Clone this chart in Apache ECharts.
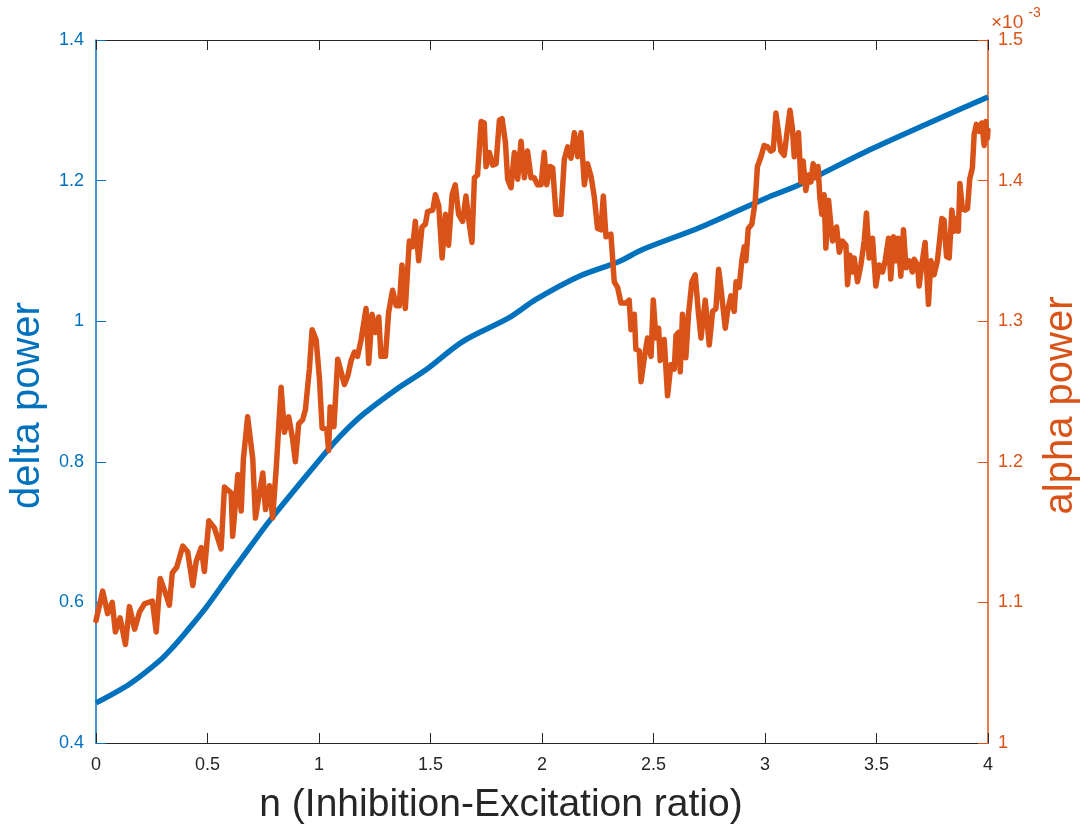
<!DOCTYPE html>
<html>
<head>
<meta charset="utf-8">
<script src="https://cdn.jsdelivr.net/npm/echarts@6/dist/echarts.min.js"></script>
<style>
html,body{margin:0;padding:0;background:#fff;}
#chart{width:1089px;height:830px;}
</style>
</head>
<body>
<div id="chart"></div>
<script>
// x ticks
const xTicks = [0, 0.5, 1, 1.5, 2, 2.5, 3, 3.5, 4];

// delta power (left axis)
const deltaN = [0, 0.151, 0.285, 0.344, 0.404, 0.494, 0.612, 0.643, 0.778, 0.987, 1.091, 1.196, 1.346, 1.480, 1.644, 1.853, 1.973, 2.167, 2.346, 2.451, 2.705, 3.004, 3.153, 3.452, 3.751, 4.0];
const deltaV = [0.457, 0.484, 0.517, 0.536, 0.558, 0.593, 0.645, 0.658, 0.716, 0.797, 0.835, 0.867, 0.903, 0.931, 0.971, 1.005, 1.031, 1.064, 1.085, 1.102, 1.133, 1.175, 1.194, 1.241, 1.284, 1.319];

// alpha power (right axis, in units of 1e-3)
const alphaN = [
  0, 0.030, 0.052, 0.073, 0.087, 0.108, 0.132, 0.150, 0.173, 0.195, 0.217, 0.253, 0.270, 0.288, 0.315, 0.329, 0.342, 0.362, 0.389, 0.411,
  0.434, 0.449, 0.472, 0.486, 0.506, 0.531, 0.561, 0.576, 0.606, 0.613, 0.636, 0.651, 0.661, 0.680, 0.703, 0.715, 0.733, 0.748, 0.760, 0.778,
  0.792, 0.808, 0.830, 0.845, 0.864, 0.882, 0.894, 0.909, 0.927, 0.939, 0.957, 0.969, 0.987, 1.002, 1.014, 1.035, 1.043, 1.050, 1.067, 1.084,
  1.114, 1.129, 1.144, 1.159, 1.173, 1.189, 1.211, 1.223, 1.238, 1.253, 1.268, 1.278, 1.298, 1.312, 1.330, 1.346, 1.360, 1.372, 1.387, 1.405,
  1.420, 1.432, 1.447, 1.462, 1.477, 1.487, 1.510, 1.522, 1.537, 1.552, 1.567, 1.581, 1.597, 1.611, 1.626, 1.644, 1.659, 1.674, 1.686, 1.697,
  1.711, 1.727, 1.741, 1.749, 1.764, 1.779, 1.794, 1.809, 1.821, 1.836, 1.846, 1.861, 1.876, 1.891, 1.906, 1.921, 1.935, 1.951, 1.965, 1.980,
  1.996, 2.010, 2.021, 2.036, 2.048, 2.063, 2.085, 2.100, 2.115, 2.130, 2.145, 2.160, 2.175, 2.190, 2.204, 2.220, 2.234, 2.249, 2.264, 2.275,
  2.287, 2.309, 2.324, 2.339, 2.354, 2.377, 2.391, 2.399, 2.414, 2.421, 2.436, 2.444, 2.459, 2.473, 2.489, 2.499, 2.511, 2.523, 2.530, 2.548,
  2.563, 2.578, 2.593, 2.601, 2.612, 2.620, 2.630, 2.645, 2.657, 2.672, 2.687, 2.702, 2.713, 2.732, 2.750, 2.765, 2.780, 2.792, 2.802, 2.822,
  2.832, 2.847, 2.862, 2.870, 2.884, 2.896, 2.907, 2.914, 2.925, 2.941, 2.956, 2.966, 2.982, 2.996, 3.011, 3.026, 3.037, 3.049, 3.061, 3.071,
  3.086, 3.101, 3.112, 3.123, 3.131, 3.150, 3.161, 3.171, 3.183, 3.195, 3.206, 3.216, 3.228, 3.238, 3.246, 3.255, 3.265, 3.273, 3.285, 3.295,
  3.303, 3.321, 3.333, 3.347, 3.363, 3.370, 3.381, 3.392, 3.400, 3.415, 3.430, 3.445, 3.455, 3.467, 3.482, 3.497, 3.512, 3.527, 3.539, 3.554,
  3.564, 3.576, 3.587, 3.597, 3.609, 3.621, 3.632, 3.646, 3.661, 3.669, 3.684, 3.691, 3.703, 3.718, 3.733, 3.744, 3.758, 3.773, 3.784, 3.793,
  3.803, 3.814, 3.826, 3.838, 3.848, 3.858, 3.867, 3.874, 3.885, 3.897, 3.908, 3.918, 3.930, 3.938, 3.948, 3.960, 3.972, 3.983, 3.990, 3.997, 4.0
];
const alphaV = [
  1.087, 1.108, 1.092, 1.100, 1.079, 1.089, 1.070, 1.097, 1.081, 1.093, 1.099, 1.101, 1.079, 1.117, 1.105, 1.098, 1.121, 1.125, 1.140, 1.136,
  1.112, 1.129, 1.139, 1.122, 1.158, 1.153, 1.138, 1.182, 1.178, 1.147, 1.191, 1.165, 1.202, 1.232, 1.202, 1.160, 1.178, 1.192, 1.166, 1.183,
  1.160, 1.195, 1.253, 1.221, 1.232, 1.216, 1.200, 1.227, 1.230, 1.237, 1.266, 1.294, 1.287, 1.259, 1.224, 1.223, 1.208, 1.239, 1.225, 1.273,
  1.255, 1.261, 1.272, 1.278, 1.275, 1.287, 1.309, 1.270, 1.305, 1.292, 1.303, 1.275, 1.275, 1.306, 1.322, 1.311, 1.311, 1.340, 1.309, 1.357,
  1.353, 1.371, 1.343, 1.367, 1.369, 1.378, 1.379, 1.390, 1.382, 1.345, 1.376, 1.354, 1.390, 1.397, 1.376, 1.371, 1.389, 1.369, 1.356, 1.402,
  1.404, 1.442, 1.441, 1.410, 1.420, 1.411, 1.412, 1.443, 1.444, 1.427, 1.401, 1.395, 1.420, 1.401, 1.428, 1.402, 1.421, 1.402, 1.402, 1.397,
  1.397, 1.420, 1.397, 1.410, 1.409, 1.376, 1.376, 1.415, 1.424, 1.416, 1.434, 1.417, 1.434, 1.397, 1.412, 1.403, 1.389, 1.366, 1.365, 1.389,
  1.360, 1.362, 1.328, 1.324, 1.313, 1.313, 1.315, 1.294, 1.305, 1.280, 1.279, 1.257, 1.274, 1.288, 1.275, 1.315, 1.288, 1.295, 1.272, 1.287,
  1.247, 1.269, 1.266, 1.290, 1.292, 1.264, 1.305, 1.274, 1.305, 1.328, 1.333, 1.305, 1.288, 1.315, 1.283, 1.307, 1.309, 1.337, 1.324, 1.295,
  1.307, 1.318, 1.307, 1.328, 1.324, 1.343, 1.353, 1.343, 1.366, 1.369, 1.385, 1.410, 1.417, 1.425, 1.424, 1.421, 1.422, 1.448, 1.434, 1.421,
  1.418, 1.437, 1.450, 1.437, 1.417, 1.434, 1.399, 1.414, 1.393, 1.404, 1.399, 1.412, 1.402, 1.410, 1.388, 1.376, 1.390, 1.352, 1.386, 1.369,
  1.357, 1.367, 1.349, 1.357, 1.354, 1.326, 1.347, 1.335, 1.345, 1.328, 1.340, 1.357, 1.377, 1.345, 1.359, 1.325, 1.340, 1.335, 1.343, 1.359,
  1.330, 1.360, 1.343, 1.359, 1.332, 1.365, 1.338, 1.343, 1.335, 1.344, 1.340, 1.325, 1.340, 1.356, 1.312, 1.343, 1.333, 1.343, 1.359, 1.373,
  1.372, 1.346, 1.345, 1.379, 1.364, 1.373, 1.364, 1.398, 1.380, 1.379, 1.380, 1.401, 1.409, 1.433, 1.440, 1.435, 1.441, 1.425, 1.442, 1.430, 1.436
];

const BLUE = '#0072BD', ORANGE = '#D95319', DARK = '#262626';
const FONT = 'Liberation Sans, Arial, Helvetica, sans-serif';

const chart = echarts.init(document.getElementById('chart'), null, {renderer: 'canvas'});
const fmt = v => String(+v.toFixed(3));

chart.setOption({
  animation: false,
  backgroundColor: '#fff',
  grid: {left: 96, right: 100, top: 40, bottom: 86, containLabel: false},
  xAxis: [
    {
      type: 'value', min: xTicks[0], max: xTicks[xTicks.length - 1], interval: 0.5,
      position: 'bottom',
      name: 'n (Inhibition-Excitation ratio)', nameLocation: 'middle', nameGap: 43,
      nameTextStyle: {fontFamily: FONT, fontSize: 39, color: DARK, padding: [0, 82, 0, 0]},
      axisLine: {show: true, onZero: false, lineStyle: {color: DARK, width: 1}},
      axisTick: {show: true, inside: true, length: 10, lineStyle: {color: DARK}},
      axisLabel: {fontFamily: FONT, fontSize: 18, color: DARK, margin: 13, formatter: fmt},
      splitLine: {show: false}
    },
    {
      type: 'value', min: 0, max: 4, interval: 0.5, position: 'top',
      axisLine: {show: true, onZero: false, lineStyle: {color: DARK, width: 1}},
      axisTick: {show: true, inside: true, length: 10, lineStyle: {color: DARK}},
      axisLabel: {show: false}, splitLine: {show: false}
    }
  ],
  yAxis: [
    {
      type: 'value', min: 0.4, max: 1.4, interval: 0.2, position: 'left',
      name: 'delta power', nameLocation: 'middle', nameGap: 43,
      nameTextStyle: {fontFamily: FONT, fontSize: 40, color: BLUE, padding: [0, 28, 0, 0]},
      axisLine: {show: true, onZero: false, lineStyle: {color: BLUE, width: 1.5}},
      axisTick: {show: true, inside: true, length: 10, lineStyle: {color: BLUE}},
      axisLabel: {fontFamily: FONT, fontSize: 18, color: BLUE, margin: 12, formatter: fmt},
      splitLine: {show: false}
    },
    {
      type: 'value', min: 1, max: 1.5, interval: 0.1, position: 'right',
      name: 'alpha power', nameLocation: 'middle', nameGap: 53,
      nameTextStyle: {fontFamily: FONT, fontSize: 40, color: ORANGE, padding: [0, 28, 0, 0]},
      axisLine: {show: true, onZero: false, lineStyle: {color: ORANGE, width: 1.5}},
      axisTick: {show: true, inside: true, length: 10, lineStyle: {color: ORANGE}},
      axisLabel: {fontFamily: FONT, fontSize: 18, color: ORANGE, margin: 10, formatter: fmt},
      splitLine: {show: false}
    }
  ],
  graphic: [{
    type: 'text', left: 991, top: 6,
    style: {
      text: '{a|×10}{b|-3}',
      rich: {
        a: {fontFamily: FONT, fontSize: 19, fill: ORANGE, padding: [7, 0, 0, 0]},
        b: {fontFamily: FONT, fontSize: 14, fill: ORANGE, verticalAlign: 'top', padding: [0, 0, 0, 5]}
      }
    }
  }],
  series: [
    {
      name: 'delta power', type: 'line', xAxisIndex: 0, yAxisIndex: 0,
      data: deltaN.map((n, i) => [n, deltaV[i]]),
      showSymbol: false, smooth: 0.3,
      lineStyle: {color: BLUE, width: 5.5}, itemStyle: {color: BLUE}
    },
    {
      name: 'alpha power', type: 'line', xAxisIndex: 0, yAxisIndex: 1,
      data: alphaN.map((n, i) => [n, alphaV[i]]),
      showSymbol: false, smooth: false,
      lineStyle: {color: ORANGE, width: 5.5, join: 'round', cap: 'round'}, itemStyle: {color: ORANGE}
    }
  ]
});
</script>
</body>
</html>
